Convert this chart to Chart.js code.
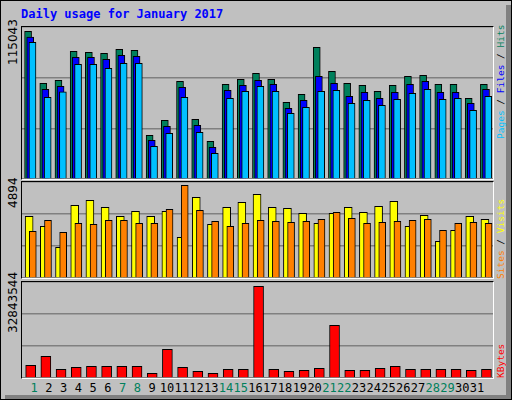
<!DOCTYPE html>
<html><head><meta charset="utf-8">
<script src="https://cdn.jsdelivr.net/npm/chart.js@4"></script>
<style>
body{margin:0;background:#fff;}
#frame{position:absolute;left:0;top:0;width:510px;height:398px;background:#c0c0c0;border:1px solid #000;overflow:hidden;font-family:"DejaVu Sans Mono",monospace;}
#shade{position:absolute;left:505px;top:4px;width:5px;height:394px;background:#808080;}
#shadeb{position:absolute;left:4px;top:394px;width:506px;height:4px;background:#808080;}
.panel{position:absolute;left:20px;width:471px;border-top:1px solid #000;border-left:1px solid #000;border-right:1px solid #fff;border-bottom:1px solid #fff;}
.panel div{position:absolute;inset:0;}
.rot{position:absolute;transform:rotate(-90deg);transform-origin:left top;white-space:nowrap;font-size:9.5px;}
.day{position:absolute;top:380px;font-size:12px;width:20px;text-align:center;font-family:"DejaVu Sans Mono",monospace;}
#title{position:absolute;left:20px;top:6px;color:#0000ff;font-weight:bold;font-size:12px;}
</style></head><body>
<div id="frame">
<div id="shade"></div><div id="shadeb"></div>
<div id="title">Daily usage for January 2017</div>
<div class="panel" style="top:25px;height:152px"><div><canvas id="c1"></canvas></div></div>
<div class="panel" style="top:180px;height:96px"><div><canvas id="c2"></canvas></div></div>
<div class="panel" style="top:280px;height:96px"><div><canvas id="c3"></canvas></div></div>
<div class="rot" style="left:5px;top:64px;font-family:'DejaVu Sans';font-size:12px">115043</div>
<div class="rot" style="left:5px;top:207px;font-family:'DejaVu Sans';font-size:12px">4894</div>
<div class="rot" style="left:5px;top:332px;font-family:'DejaVu Sans';font-size:12px">32843544</div>
<div class="rot" style="left:494px;top:138px"><span style="color:#00c0ff">Pages</span> / <span style="color:#0000ff">Files</span> / <span style="color:#00805c">Hits</span></div>
<div class="rot" style="left:494px;top:278px"><span style="color:#ff8000">Sites</span> / <span style="color:#ffff00">Visits</span></div>
<div class="rot" style="left:494px;top:377px;color:#ff0000">KBytes</div>
<div id="days"></div>
</div>
<script>
const days=[1,2,3,4,5,6,7,8,9,10,11,12,13,14,15,16,17,18,19,20,21,22,23,24,25,26,27,28,29,30,31];
const weekend=[1,7,8,14,15,21,22,28,29];
const hits=[111800,72400,74700,96700,95900,95100,98200,97400,33100,44400,73900,45200,28500,71700,75500,80000,75500,58100,64100,99700,81500,72400,70900,66400,70900,77700,78500,71700,71700,61100,71700];
const files=[107500,67900,70200,92100,92100,90600,93600,92900,29300,39900,69400,40600,24000,67100,70900,74700,71700,53500,59600,77700,72400,62600,65600,61100,65600,71700,73900,65600,65600,57300,67900];
const pages=[103500,61800,65900,86800,86800,83800,87600,87600,24700,34600,61800,35300,19500,61100,66400,70200,66400,49700,54300,66400,67100,57300,59600,55800,60300,64900,67900,60300,61100,52000,62600];
const visits=[3145,2635,1565,3705,3960,3605,3145,3400,3145,3400,2075,4115,2740,3605,3860,4265,3605,3555,3300,2790,3300,3605,3350,3655,3910,2635,3195,1870,2430,3145,2990];
const sites=[2380,2940,2330,2790,2740,2940,2940,2790,2790,3500,4725,3450,2890,2635,2790,2940,2890,2840,2890,2990,3350,3045,2790,2840,2890,2940,2990,2430,2790,2840,2790];
const kbytes=[4340000,7420000,2980000,3660000,4000000,4000000,4000000,4000000,1610000,9820000,3660000,2290000,1610000,2980000,2980000,31370000,2980000,2290000,2630000,3320000,18030000,2630000,2630000,3320000,4000000,2980000,2980000,2980000,2980000,2630000,2980000];
const maxTop=115043,maxMid=4894,maxBot=32843544;

function ds(vals,off,color,w,order){
  return {data:vals.map((v,i)=>({x:days[i]+off,y:v})),backgroundColor:color,borderColor:'#000',borderWidth:1,borderSkipped:'bottom',barThickness:w,grouped:false,order:order};
}
function mk(id,datasets,max){
  new Chart(document.getElementById(id),{type:'bar',data:{datasets},
    options:{responsive:true,maintainAspectRatio:false,animation:false,
      plugins:{legend:{display:false},tooltip:{enabled:false}},
      layout:{padding:0},
      scales:{
        x:{type:'linear',min:0.5,max:31.5,offset:false,display:false},
        y:{min:0,max:max,ticks:{display:false,stepSize:max/3},border:{display:false},
           grid:{color:'#808080',lineWidth:1.5,drawTicks:false,tickLength:0}}
      }}});
}
mk('c1',[ds(hits,-0.1,'#00805c',7,2),ds(files,0.04,'#0000ff',7,1),ds(pages,0.19,'#00c0ff',7,0)],maxTop);
mk('c2',[ds(visits,-0.03,'#ffff00',8,1),ds(sites,0.21,'#ff8000',7,0)],maxMid);
mk('c3',[ds(kbytes,0.07,'#ff0000',10,0)],maxBot);

const dd=document.getElementById('days');
days.forEach(d=>{const e=document.createElement('div');e.className='day';
  e.style.left=(33+(d-1)*14.77-10)+'px';
  e.style.color=weekend.includes(d)?'#00805c':'#000';e.textContent=d;dd.appendChild(e);});
</script>
</body></html>
